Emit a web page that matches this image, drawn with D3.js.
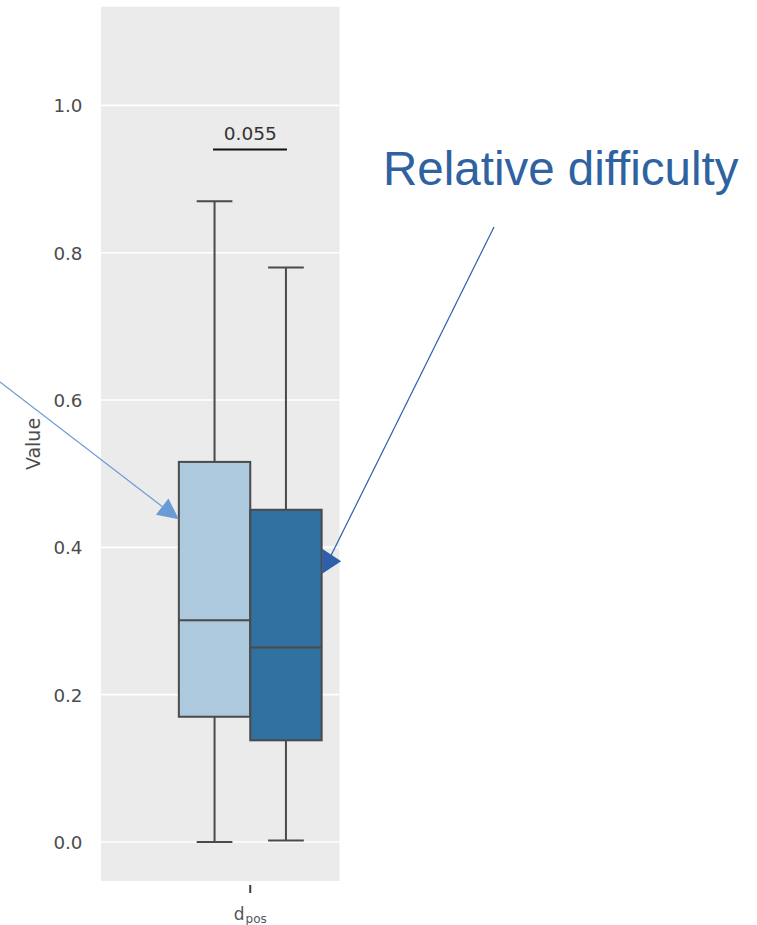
<!DOCTYPE html>
<html>
<head>
<meta charset="utf-8">
<script src="https://cdn.jsdelivr.net/npm/d3@7"></script>
<style>
  html, body { margin: 0; padding: 0; background: #ffffff; }
  svg { display: block; }
</style>
</head>
<body>
<svg id="chart" width="757" height="925"></svg>
<script>
// Box plot data: one category, two groups
const categories = ["d_pos"];
const groups = ["A", "B"];
const groupColors = ["#adc9dd", "#3171a1"];
const whiskerLow = [0.000, 0.002];
const q1 = [0.170, 0.138];
const median = [0.301, 0.264];
const q3 = [0.516, 0.451];
const whiskerHigh = [0.870, 0.780];
const yTicks = [0.0, 0.2, 0.4, 0.6, 0.8, 1.0];
const yDomain = [-0.053, 1.134];
const pValueText = "0.055";
const bracketValue = 0.94;
const calloutText = "Relative difficulty";
// values where the two callout arrows touch the boxes
const arrowValue = [0.438, 0.381];

const svg = d3.select("#chart");

const panel = { left: 101, right: 339.5, top: 6.7, bottom: 881 };

const y = d3.scaleLinear().domain(yDomain).range([panel.bottom, panel.top]);
const x = d3.scaleBand().domain(categories).range([161, 339.5]).paddingInner(0).paddingOuter(0);
const bw = x.bandwidth();
const hue = d3.scaleBand().domain(groups).range([0.1 * bw, 0.9 * bw]);

// panel background
svg.append("rect")
  .attr("x", panel.left).attr("y", panel.top)
  .attr("width", panel.right - panel.left).attr("height", panel.bottom - panel.top)
  .attr("fill", "#ebebeb");

// gridlines
svg.append("g").selectAll("line").data(yTicks).join("line")
  .attr("x1", panel.left).attr("x2", panel.right)
  .attr("y1", d => y(d)).attr("y2", d => y(d))
  .attr("stroke", "#ffffff").attr("stroke-width", 1.6);

// y axis tick labels
const yAxis = d3.axisLeft(y).tickValues(yTicks).tickFormat(d3.format(".1f")).tickSize(0).tickPadding(0);
const yg = svg.append("g").attr("transform", "translate(82.5,0)").call(yAxis);
yg.select(".domain").remove();
yg.selectAll("text")
  .attr("font-family", "DejaVu Sans").attr("font-size", 18.3)
  .attr("fill", "#4d4d4d").attr("dy", "0.35em");

// y axis title
svg.append("text")
  .attr("transform", "translate(34,444) rotate(-90)")
  .attr("text-anchor", "middle").attr("dominant-baseline", "middle")
  .attr("font-family", "DejaVu Sans").attr("font-size", 19)
  .attr("fill", "#4d4d4d").text("Value");

// x axis tick + label
const xAxis = d3.axisBottom(x).tickSize(8).tickFormat("");
const xg = svg.append("g").attr("transform", `translate(0,${panel.bottom + 4})`).call(xAxis);
xg.select(".domain").remove();
xg.selectAll("line").attr("stroke", "#3a3a3a").attr("stroke-width", 2);
const xl = svg.append("text")
  .attr("x", x(categories[0]) + bw / 2).attr("y", 920)
  .attr("text-anchor", "middle")
  .attr("font-family", "DejaVu Sans").attr("fill", "#555555");
xl.append("tspan").attr("font-size", 17).text("d");
xl.append("tspan").attr("font-size", 12).attr("dy", 2.5).attr("dx", 1).text("pos");

// boxes
const edge = "#4a4a4a";
const boxes = svg.append("g");
groups.forEach((g, i) => {
  const x0 = x(categories[0]) + hue(g);
  const w = hue.bandwidth();
  const cx = x0 + w / 2;
  const grp = boxes.append("g");
  // whiskers
  grp.append("line").attr("x1", cx).attr("x2", cx)
    .attr("y1", y(q3[i])).attr("y2", y(whiskerHigh[i]))
    .attr("stroke", edge).attr("stroke-width", 2);
  grp.append("line").attr("x1", cx).attr("x2", cx)
    .attr("y1", y(q1[i])).attr("y2", y(whiskerLow[i]))
    .attr("stroke", edge).attr("stroke-width", 2);
  // caps
  [whiskerHigh[i], whiskerLow[i]].forEach(v => {
    grp.append("line").attr("x1", cx - w / 4).attr("x2", cx + w / 4)
      .attr("y1", y(v)).attr("y2", y(v))
      .attr("stroke", edge).attr("stroke-width", 2);
  });
  // box
  grp.append("rect")
    .attr("x", x0).attr("y", y(q3[i]))
    .attr("width", w).attr("height", y(q1[i]) - y(q3[i]))
    .attr("fill", groupColors[i]).attr("stroke", edge).attr("stroke-width", 2);
  // median
  grp.append("line").attr("x1", x0).attr("x2", x0 + w)
    .attr("y1", y(median[i])).attr("y2", y(median[i]))
    .attr("stroke", edge).attr("stroke-width", 2);
});

// significance bracket
const c0 = x(categories[0]) + hue(groups[0]) + hue.bandwidth() / 2;
const c1 = x(categories[0]) + hue(groups[1]) + hue.bandwidth() / 2;
svg.append("line")
  .attr("x1", c0 - 1.5).attr("x2", c1 + 1)
  .attr("y1", y(bracketValue)).attr("y2", y(bracketValue))
  .attr("stroke", "#111111").attr("stroke-width", 2);
svg.append("text")
  .attr("x", (c0 + c1) / 2).attr("y", y(bracketValue) - 10)
  .attr("text-anchor", "middle")
  .attr("font-family", "DejaVu Sans").attr("font-size", 18.5)
  .attr("fill", "#333333").text(pValueText);

// callout text
svg.append("text")
  .attr("x", 383).attr("y", 185)
  .attr("font-family", "Liberation Sans").attr("font-size", 47.5)
  .attr("fill", "#2e62a0").text(calloutText);

// arrow into the first box, from the left edge
const tip1 = [x(categories[0]) + hue(groups[0]), y(arrowValue[0])];
const start1 = [0, 382];
const dx1 = tip1[0] - start1[0], dy1 = tip1[1] - start1[1];
const len1 = Math.hypot(dx1, dy1);
const ux = dx1 / len1, uy = dy1 / len1;
const headLen = 21, headHalf = 10.3;
const base1 = [tip1[0] - ux * headLen, tip1[1] - uy * headLen];
svg.append("line")
  .attr("x1", start1[0]).attr("y1", start1[1])
  .attr("x2", base1[0]).attr("y2", base1[1])
  .attr("stroke", "#6a9bd4").attr("stroke-width", 1.1);
svg.append("path")
  .attr("d", d3.line()([
    tip1,
    [base1[0] - uy * headHalf, base1[1] + ux * headHalf],
    [base1[0] + uy * headHalf, base1[1] - ux * headHalf]
  ]) + "Z")
  .attr("fill", "#6a9bd4");

// arrow from the callout text to the second box
const b2x = x(categories[0]) + hue(groups[1]) + hue.bandwidth();
const tip2 = [b2x + 19.5, y(arrowValue[1])];
const start2 = [494, 227];
svg.append("line")
  .attr("x1", start2[0]).attr("y1", start2[1])
  .attr("x2", tip2[0] - 13).attr("y2", tip2[1])
  .attr("stroke", "#2e5fa8").attr("stroke-width", 1.2);
svg.append("path")
  .attr("d", d3.line()([
    tip2,
    [tip2[0] - 19, tip2[1] - 12.5],
    [tip2[0] - 19, tip2[1] + 12.5]
  ]) + "Z")
  .attr("fill", "#2e5fa8");
</script>
</body>
</html>
